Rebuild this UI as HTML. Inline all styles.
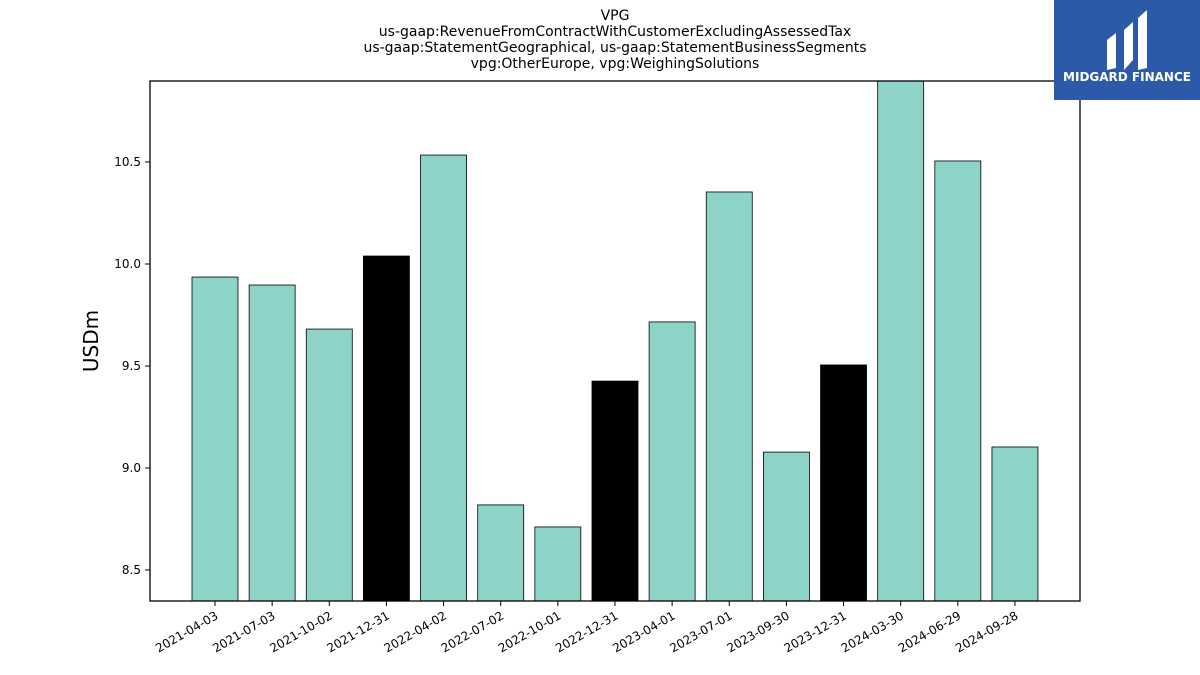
<!DOCTYPE html>
<html><head><meta charset="utf-8"><style>
body{margin:0;background:#fff;}
svg{display:block;font-family:"DejaVu Sans","Liberation Sans",sans-serif;}
</style></head><body>
<svg id="chart" width="1200" height="675" xmlns="http://www.w3.org/2000/svg">
<g font-size="14" text-anchor="middle" fill="#000">
<text x="615" y="20">VPG</text>
<text x="615" y="36">us-gaap:RevenueFromContractWithCustomerExcludingAssessedTax</text>
<text x="615" y="52">us-gaap:StatementGeographical, us-gaap:StatementBusinessSegments</text>
<text x="615" y="68">vpg:OtherEurope, vpg:WeighingSolutions</text>
</g>
<g id="bars"></g>
<g id="yaxis"></g>
<g id="xaxis"></g>
<rect x="150" y="81" width="930" height="520" fill="none" stroke="#000" stroke-width="1.3"/>
<text x="98" y="341" font-size="20" text-anchor="middle" transform="rotate(-90 98 341)">USDm</text>
<g>
<rect x="1054" y="0" width="146" height="100" fill="#2c5aa8"/>
<path d="M1107 40 L1116 33 L1116 68 L1107 70 Z M1124 30 L1133 22 L1133 60 L1124 70 Z M1138 18 L1147 10 L1147 68 L1138 70 Z" fill="#fff"/>
<text x="1127" y="81" font-size="12" font-weight="bold" fill="#fff" text-anchor="middle">MIDGARD FINANCE</text>
</g>
</svg>
<script>
const categories=["2021-04-03","2021-07-03","2021-10-02","2021-12-31","2022-04-02","2022-07-02","2022-10-01","2022-12-31","2023-04-01","2023-07-01","2023-09-30","2023-12-31","2024-03-30","2024-06-29","2024-09-28"];
const values=[9.936,9.897,9.681,10.039,10.534,8.819,8.711,9.426,9.716,10.353,9.078,9.505,10.95,10.505,9.103];
const annual=[false,false,false,true,false,false,false,true,false,false,false,true,false,false,false];
const yTicks=[8.5,9.0,9.5,10.0,10.5];
const yTickLabels=["8.5","9.0","9.5","10.0","10.5"];
const NS="http://www.w3.org/2000/svg";
const yMin=8.348,yMax=10.897,pTop=81,pBottom=601,pLeft=150,pRight=1080;
function yScale(v){return pBottom-(v-yMin)/(yMax-yMin)*(pBottom-pTop);}
const step=57.14,first=215;
function xScale(i){return first+i*step;}
const barsG=document.getElementById('bars'),yaG=document.getElementById('yaxis'),xaG=document.getElementById('xaxis');
const clip=document.createElementNS(NS,'clipPath');clip.setAttribute('id','pc');
const cr=document.createElementNS(NS,'rect');cr.setAttribute('x',pLeft);cr.setAttribute('y',pTop);cr.setAttribute('width',pRight-pLeft);cr.setAttribute('height',pBottom-pTop);
clip.appendChild(cr);barsG.appendChild(clip);barsG.setAttribute('clip-path','url(#pc)');
values.forEach((v,i)=>{
 const r=document.createElementNS(NS,'rect');
 
 
 const yt=yScale(v);
 r.setAttribute('x',xScale(i)-23);r.setAttribute('width',46);
 r.setAttribute('y',yt);r.setAttribute('height',pBottom-yt);
 r.setAttribute('fill',annual[i]?'#000':'#8dd3c7');r.setAttribute('stroke','#000');r.setAttribute('stroke-width','0.8');
 barsG.appendChild(r);
 const t=document.createElementNS(NS,'line');
 
 
 t.setAttribute('x1',xScale(i));t.setAttribute('x2',xScale(i));t.setAttribute('y1',pBottom);t.setAttribute('y2',pBottom+5);t.setAttribute('stroke','#000');
 xaG.appendChild(t);
 const l=document.createElementNS(NS,'text');
 
 
 const lx=xScale(i)+4,ly=pBottom+17;
 l.setAttribute('x',lx);l.setAttribute('y',ly);l.setAttribute('font-size','12');l.setAttribute('text-anchor','end');
 l.setAttribute('transform','rotate(-30 '+lx+' '+ly+')');l.textContent=categories[i];
 xaG.appendChild(l);
});
yTicks.forEach((v,i)=>{
 const t=document.createElementNS(NS,'line');
 
 
 t.setAttribute('x1',pLeft-5);t.setAttribute('x2',pLeft);t.setAttribute('y1',yScale(v));t.setAttribute('y2',yScale(v));t.setAttribute('stroke','#000');
 yaG.appendChild(t);
 const l=document.createElementNS(NS,'text');
 
 
 l.setAttribute('x',pLeft-9);l.setAttribute('y',yScale(v)+4);l.setAttribute('font-size','12');l.setAttribute('text-anchor','end');
 l.textContent=yTickLabels[i];
 yaG.appendChild(l);
});
</script>
</body></html>
